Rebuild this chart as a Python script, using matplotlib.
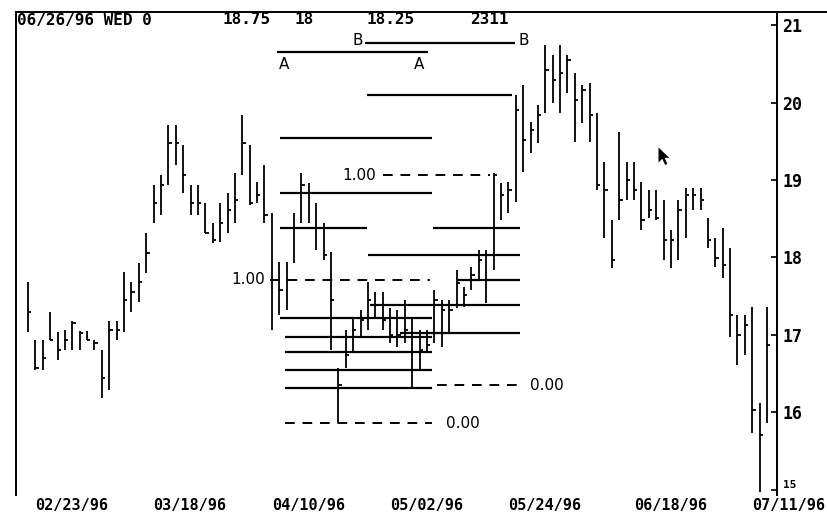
import matplotlib
matplotlib.use("Agg")
import matplotlib.pyplot as plt
from matplotlib.path import Path

# ---------------- data ----------------
high = [17.68, 16.94, 16.94, 17.30, 17.04, 17.06, 17.18, 17.05, 17.05, 16.94,
        16.81, 17.18, 17.18, 17.81, 17.68, 17.93, 18.32, 18.94, 19.06, 19.71,
        19.71, 19.45, 18.94, 18.94, 18.70, 18.45, 18.70, 18.83, 19.09, 19.84,
        19.45, 18.97, 19.19, 18.57, 17.94, 17.94, 18.57, 19.09, 18.96, 18.70,
        18.45, 18.07, 16.57, 17.06, 17.22, 17.32, 17.68, 17.55, 17.55, 17.35,
        17.32, 17.45, 17.22, 17.06, 17.06, 17.58, 17.45, 17.45, 17.84, 17.62,
        17.88, 18.10, 18.10, 19.09, 18.96, 18.97, 20.10, 20.23, 19.75, 19.97,
        20.74, 20.61, 20.74, 20.61, 20.38, 20.23, 20.25, 19.86, 19.23, 18.48,
        19.62, 19.23, 19.23, 18.97, 18.87, 18.87, 18.74, 18.35, 18.74, 18.90,
        18.90, 18.90, 18.51, 18.25, 18.38, 18.12, 17.26, 17.26, 17.36, 16.12,
        17.36]
low = [17.04, 16.55, 16.55, 16.94, 16.68, 16.81, 16.81, 16.81, 16.94, 16.81,
       16.19, 16.29, 16.94, 17.04, 17.30, 17.43, 17.80, 18.45, 18.55, 18.94,
       19.19, 18.83, 18.55, 18.55, 18.32, 18.19, 18.20, 18.32, 18.45, 19.06,
       18.68, 18.70, 18.45, 17.06, 17.26, 17.32, 17.93, 18.45, 18.45, 18.10,
       17.97, 16.81, 15.86, 16.57, 16.77, 16.96, 17.06, 17.23, 17.06, 16.90,
       16.85, 16.90, 16.33, 16.55, 16.77, 16.90, 16.85, 17.03, 17.35, 17.36,
       17.58, 17.71, 17.41, 17.84, 18.48, 18.57, 18.72, 19.10, 19.35, 19.48,
       19.86, 19.99, 19.86, 20.12, 19.49, 19.74, 19.49, 18.87, 18.25, 17.86,
       18.48, 18.74, 18.74, 18.35, 18.51, 18.48, 17.97, 17.86, 17.97, 18.25,
       18.61, 18.61, 18.12, 17.88, 17.74, 16.97, 16.61, 16.74, 15.74, 14.97,
       15.86]
close = [17.30, 16.57, 16.70, 16.94, 16.81, 16.94, 17.15, 17.02, 16.94, 16.90,
         16.45, 17.06, 17.06, 17.45, 17.55, 17.68, 18.06, 18.70, 18.94, 19.48,
         19.48, 19.06, 18.70, 18.70, 18.32, 18.22, 18.45, 18.61, 18.74, 19.48,
         18.70, 18.81, 18.55, 17.71, 17.58, 17.71, 18.38, 18.94, 18.83, 18.38,
         18.03, 17.45, 16.35, 16.74, 17.06, 17.19, 17.45, 17.39, 17.19, 17.00,
         17.00, 17.06, 16.55, 16.81, 16.87, 17.45, 17.32, 17.32, 17.67, 17.52,
         17.77, 17.97, 17.71, 19.06, 18.81, 18.87, 19.90, 19.52, 19.65, 19.84,
         20.42, 20.29, 20.38, 20.55, 20.03, 20.16, 19.84, 18.94, 18.87, 17.97,
         18.74, 19.00, 18.87, 18.48, 18.61, 18.51, 18.23, 18.23, 18.61, 18.81,
         18.81, 18.74, 18.23, 17.99, 17.90, 17.26, 17.00, 17.13, 16.03, 15.71,
         16.87]

date_labels = ["02/23/96", "03/18/96", "04/10/96", "05/02/96",
               "05/24/96", "06/18/96", "07/11/96"]
date_bar_index = [1, 17, 33, 49, 65, 82, 98]
price_ticks = [15, 16, 17, 18, 19, 20, 21]
header_texts = ["06/26/96 WED 0", "18.75", "18", "18.25", "2311"]

# retracement / projection levels (price, first bar, last bar)
left_levels = [20.65, 19.54, 18.83, 18.38, 17.22, 16.97, 16.78, 16.55, 16.32]
left_start = [33.7, 34.1, 34.1, 34.1, 34.1, 34.8, 34.8, 34.8, 34.8]
left_end = [54.1, 54.7, 54.7, 45.9, 54.7, 54.7, 54.7, 54.7, 54.7]
right_levels = [20.77, 20.10, 18.38, 18.03, 17.71, 17.39, 17.03]
right_start = [45.6, 45.9, 54.8, 46.0, 58.1, 46.3, 50.3]
right_end = [65.9, 65.5, 66.6, 66.6, 66.6, 66.6, 66.6]
dashed_levels = [17.71, 15.86, 19.06, 16.35]
dashed_start = [32.7, 34.8, 48.0, 55.3]
dashed_end = [54.4, 54.7, 62.5, 66.6]
dashed_texts = ["1.00", "0.00", "1.00", "0.00"]

# ---------------- figure ----------------
W, H = 827, 515
fig = plt.figure(figsize=(W / 100, H / 100), dpi=100)
fig.patch.set_facecolor("white")
ax = fig.add_axes([16 / W, 1 - 495 / H, (777 - 16) / W, (495 - 12) / H])
ax.set_facecolor("white")
ax.set_xlim(-1.62, 101.35)
ax.set_ylim(14.935, 21.168)

n = len(high)
xs = list(range(n))
ax.vlines(xs, low, high, color="black", lw=1.3)
ax.hlines(close, [x for x in xs], [x + 0.45 for x in xs], color="black", lw=1.3)

# level lines
ax.hlines(left_levels, left_start, left_end, color="black", lw=1.6)
ax.hlines(right_levels, right_start, right_end, color="black", lw=1.6)
for lv, s, e in zip(dashed_levels, dashed_start, dashed_end):
    ax.plot([s, e], [lv, lv], color="black", lw=1.4, ls=(0, (5, 4)))

lab_font = dict(family="DejaVu Sans", fontsize=11, color="black")
# 1.00 / 0.00 labels
ax.text(dashed_start[0] - 0.6, dashed_levels[0], dashed_texts[0], ha="right", va="center", **lab_font)
ax.text(dashed_end[1] + 1.8, dashed_levels[1], dashed_texts[1], ha="left", va="center", **lab_font)
ax.text(dashed_start[2] - 0.9, dashed_levels[2], dashed_texts[2], ha="right", va="center", **lab_font)
ax.text(dashed_end[3] + 1.3, dashed_levels[3], dashed_texts[3], ha="left", va="center", **lab_font)

# A / B labels
ax.text(left_start[0] + 0.9, left_levels[0] - 0.06, "A", ha="center", va="top", **lab_font)
ax.text(left_end[0] - 1.2, left_levels[0] - 0.06, "A", ha="center", va="top", **lab_font)
ax.text(right_start[0] - 0.3, right_levels[0] + 0.03, "B", ha="right", va="center", **lab_font)
ax.text(right_end[0] + 0.5, right_levels[0] + 0.03, "B", ha="left", va="center", **lab_font)

# cursor arrow
cursor = Path([(0, 0), (0, -16), (4, -12), (7, -18.5), (9.5, -17.5), (6.5, -11), (11.5, -11), (0, 0)],
              [Path.MOVETO] + [Path.LINETO] * 6 + [Path.CLOSEPOLY])
ax.plot([85.2], [19.42], marker=cursor, markersize=25, color="black", markeredgewidth=0)

# axes styling
ax.spines["bottom"].set_visible(False)
for s in ["left", "top", "right"]:
    ax.spines[s].set_linewidth(1.4)
ax.yaxis.tick_right()
ax.set_yticks(price_ticks)
ax.set_yticklabels([str(p) for p in price_ticks], family="DejaVu Sans Mono",
                   fontweight="bold", fontsize=12)
ax.tick_params(axis="y", direction="in", length=4, width=1.2, pad=4)
# lowest price label is squeezed against the date row in the original
lowest = ax.get_yticklabels()[0]
lowest.set_fontsize(8)
lowest.set_verticalalignment("bottom")
ax.set_xticks(date_bar_index)
ax.set_xticklabels(date_labels, family="DejaVu Sans Mono", fontweight="bold",
                   fontsize=11, ha="left")
ax.tick_params(axis="x", length=0, pad=2)

# top border continues past price axis
fig.add_artist(plt.Line2D([777 / W, 1.0], [1 - 11.5 / H, 1 - 11.5 / H],
                          color="black", lw=1.4))

# header
hdr_x = [17, 223, 294, 367, 470]
for t, xp in zip(header_texts, hdr_x):
    fig.text(xp / W, 1 - 20 / H, t, ha="left", va="center",
             family="DejaVu Sans Mono", fontweight="bold", fontsize=11.5)

fig.savefig("out.png", dpi=100, facecolor="white")
